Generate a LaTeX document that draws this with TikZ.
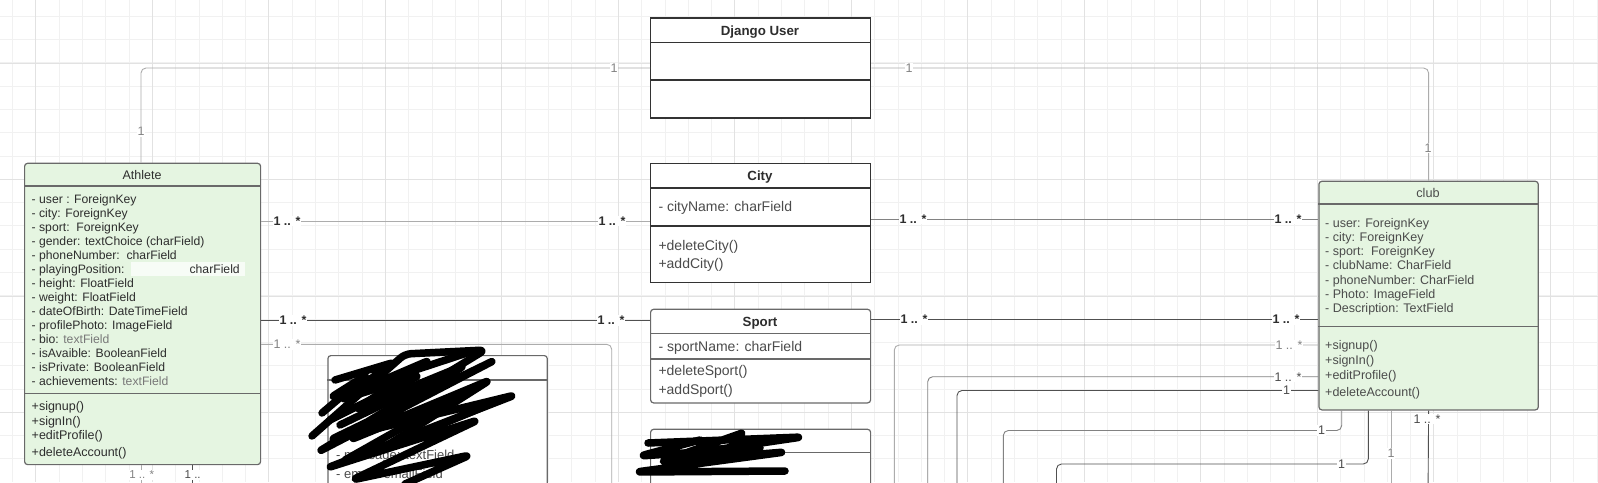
\documentclass[tikz,border=0pt]{standalone}
\usepackage{fontspec}
\setmainfont{Liberation Sans}
\usetikzlibrary{positioning, calc}

\definecolor{GridMinor}{RGB}{241,241,241}
\definecolor{GridMajor}{RGB}{226,226,226}
\definecolor{ModelGreen}{RGB}{229,245,225}
\definecolor{BoxBorder}{RGB}{105,105,105}
\definecolor{TextDark}{RGB}{45,45,45}
\definecolor{TextMid}{RGB}{75,75,75}
\definecolor{TextLight}{RGB}{120,120,120}
\definecolor{LinkDark}{RGB}{80,80,80}
\definecolor{LinkMid}{RGB}{130,130,130}
\definecolor{LinkLight}{RGB}{172,172,172}

\begin{document}
\begin{tikzpicture}[x=1pt, y=-1pt,
    greenbox/.style={rectangle, draw=BoxBorder, fill=ModelGreen, line width=1.2pt, rounded corners=3pt, anchor=north west, inner sep=0},
    plainbox/.style={rectangle, draw=black!80, fill=white, line width=1.4pt, anchor=north west, inner sep=0},
    roundbox/.style={plainbox, draw=BoxBorder, line width=1.2pt, rounded corners=3pt},
    rows/.style={anchor=north west, align=left, inner sep=0, text=TextDark},
    label/.style={anchor=base west, inner sep=0, text=TextMid, font=\fontsize{14}{16}\selectfont},
    title/.style={anchor=base, inner sep=0, text=TextDark, font=\fontsize{13.3}{15}\selectfont\bfseries},
    link/.style={draw=LinkDark, line width=0.9pt, rounded corners=5pt},
    mult/.style={fill=white, inner sep=1pt, text=TextMid, font=\fontsize{12.5}{14}\selectfont},
    multbold/.style={mult, text=TextDark, font=\fontsize{12.5}{14}\selectfont\bfseries},
    multlight/.style={mult, text=LinkMid},
    scribble/.style={line width=7.5pt, line cap=round, line join=round, rounded corners=6pt}
]
    \useasboundingbox (0,0) rectangle (1598,482);
    \clip (0,0) rectangle (1598,482);
    \fill[white] (0,0) rectangle (1598,482);

    % background grid
    \foreach \gx in {12.5,35.8,...,1598} \draw[GridMinor, line width=0.8pt] (\gx,0) -- (\gx,482);
    \foreach \gy in {16.1,39.4,...,482} \draw[GridMinor, line width=0.8pt] (0,\gy) -- (1598,\gy);
    \foreach \gx in {35.8,152.3,...,1598} \draw[GridMajor, line width=0.9pt] (\gx,0) -- (\gx,482);
    \foreach \gy in {63,179.5,...,482} \draw[GridMajor, line width=0.9pt] (0,\gy) -- (1598,\gy);

    % model boxes
    \node[plainbox, minimum width=220pt, minimum height=100pt] (django) at (650,17.3) {};
    \node[plainbox, minimum width=220pt, minimum height=119.3pt] (city) at (650,162.7) {};
    \node[roundbox, minimum width=220pt, minimum height=93.6pt] (sport) at (650,308.7) {};
    \node[roundbox, minimum width=220pt, minimum height=150pt] (midmodel) at (650,428.7) {};
    \node[roundbox, minimum width=219.4pt, minimum height=200pt] (leftmodel) at (327.3,355) {};
    \node[greenbox, minimum width=236pt, minimum height=301.3pt] (athlete) at (24,162.7) {};
    \node[greenbox, minimum width=219.4pt, minimum height=228.6pt] (club) at (1318.3,180.7) {};

    % compartment lines
    \draw[black!80, line width=1.4pt] (django.west |- 0,42.7) -- (django.east |- 0,42.7);
    \draw[black!80, line width=1.4pt] (django.west |- 0,80) -- (django.east |- 0,80);
    \draw[black!80, line width=1.4pt] (city.west |- 0,188) -- (city.east |- 0,188);
    \draw[black!80, line width=1.4pt] (city.west |- 0,226) -- (city.east |- 0,226);
    \draw[BoxBorder, line width=1.2pt] (sport.west |- 0,333.3) -- (sport.east |- 0,333.3);
    \draw[BoxBorder, line width=1.2pt] (sport.west |- 0,359) -- (sport.east |- 0,359);
    \draw[BoxBorder, line width=1.2pt] (midmodel.west |- 0,452.7) -- (midmodel.east |- 0,452.7);
    \draw[BoxBorder, line width=1.2pt] (leftmodel.west |- 0,380) -- (leftmodel.east |- 0,380);
    \draw[BoxBorder, line width=1.2pt] (athlete.west |- 0,186) -- (athlete.east |- 0,186);
    \draw[BoxBorder, line width=1.2pt] (athlete.west |- 0,393.3) -- (athlete.east |- 0,393.3);
    \draw[BoxBorder, line width=1.2pt] (club.west |- 0,204) -- (club.east |- 0,204);
    \draw[BoxBorder, line width=1.2pt] (club.west |- 0,326.7) -- (club.east |- 0,326.7);

    % box texts
    \node[title] (djangoTitle) at (760,35.5) {Django User};
    \node[title] (cityTitle) at (760,180.5) {City};
    \node[label] (cityAttrs) at (658.3,211.5) {- cityName: charField};
    \node[label] (cityOpA) at (658.3,250) {+deleteCity()};
    \node[label] (cityOpB) at (658.3,268.8) {+addCity()};
    \node[title] (sportTitle) at (760,326.2) {Sport};
    \node[label] (sportAttrs) at (658.3,351.2) {- sportName: charField};
    \node[label] (sportOpA) at (658.3,375.5) {+deleteSport()};
    \node[label] (sportOpB) at (658.3,394.5) {+addSport()};
    \node[label, font=\fontsize{13}{15}\selectfont] (leftRowA) at (336,459.5) {- message: textField};
    \node[label, font=\fontsize{13}{15}\selectfont] (leftRowB) at (336,478.5) {- email: emailField};

    \node[title, font=\fontsize{12.5}{14}\selectfont] (athleteTitle) at (142,179.5) {Athlete};
    \fill[white, opacity=0.7] (131,261.5) rectangle (245,276);
    \node[rows, font=\fontsize{12.2}{14}\selectfont] (athleteAttrs) at (31.5,194.2) {- user : ForeignKey\\- city: ForeignKey\\- sport:\ \ ForeignKey\\- gender: textChoice (charField)\\- phoneNumber:\ \ charField\\- playingPosition:\hspace{65pt}charField\\- height: FloatField\\- weight: FloatField\\- dateOfBirth: DateTimeField\\- profilePhoto: ImageField\\- bio: \textcolor{TextLight}{textField}\\- isAvaible: BooleanField\\- isPrivate: BooleanField\\- achievements: \textcolor{TextLight}{textField}};
    \node[rows, font=\fontsize{12.5}{14.5}\selectfont] (athleteOps) at (31.5,401.5) {+signup()\\+signIn()\\+editProfile()\\[2.5pt]+deleteAccount()};

    \node[title, font=\fontsize{12.7}{14}\selectfont, text=TextMid] (clubTitle) at (1428,197.2) {club};
    \node[rows, text=TextMid, font=\fontsize{12.5}{14.3}\selectfont] (clubAttrs) at (1325,217.8) {- user: ForeignKey\\- city: ForeignKey\\- sport:\ \ ForeignKey\\- clubName: CharField\\- phoneNumber: CharField\\- Photo: ImageField\\- Description: TextField};
    \node[rows, text=TextMid, font=\fontsize{12.5}{14.7}\selectfont] (clubOps) at (1325,340.5) {+signup()\\+signIn()\\+editProfile()\\[2.5pt]+deleteAccount()};

    % free ends below the picture
    \coordinate (athleteDownA) at (611.7,500);
    \coordinate (athleteDownB) at (141.7,500);
    \coordinate (athleteDownC) at (192.7,500);
    \coordinate (clubDownA) at (894.3,500);
    \coordinate (clubDownB) at (927.7,500);
    \coordinate (clubDownC) at (957,500);
    \coordinate (clubDownD) at (1003.3,500);
    \coordinate (clubDownE) at (1056.5,500);
    \coordinate (clubDownF) at (1391,500);
    \coordinate (clubDownG) at (1428,500);

    % associations
    \draw[link, draw=LinkLight] (athlete.north -| 141,0) |- (django.west |- 0,68);
    \draw[link, draw=LinkLight] (django.east |- 0,68) -| (club.north);
    \draw[link, draw=LinkLight] (athlete.east |- 0,221) -- (city.west |- 0,221);
    \draw[link, draw=LinkMid] (city.east |- 0,219) -- (club.west |- 0,219);
    \draw[link] (athlete.east |- 0,320.5) -- (sport.west |- 0,320.5);
    \draw[link] (sport.east |- 0,319.5) -- (club.west |- 0,319.5);
    \draw[link, draw=LinkLight] (athlete.east |- 0,344.3) -| (athleteDownA);
    \draw[link, draw=LinkLight] (club.west |- 0,345) -| (clubDownA);
    \draw[link, draw=LinkMid] (club.west |- 0,376.7) -| (clubDownB);
    \draw[link] (club.west |- 0,390.5) -| (clubDownC);
    \draw[link, draw=LinkMid] (club.south -| 1341.7,0) |- (clubDownD |- 0,430.5) -- (clubDownD);
    \draw[link] (club.south -| 1368.3,0) |- (clubDownE |- 0,464) -- (clubDownE);
    \draw[link, draw=LinkLight] (club.south -| 1391,0) -- (clubDownF);
    \draw[link] (club.south) -- (clubDownG);
    \draw[link, draw=LinkLight] (athlete.south -| 141.7,0) -- (athleteDownB);
    \draw[link] (athlete.south -| 192.7,0) -- (athleteDownC);

    % multiplicities
    \node[multlight] (mUserA) at (141,131.5) {1};
    \node[multlight] (mUserB) at (614,68) {1};
    \node[multlight] (mUserC) at (909,68) {1};
    \node[multlight] (mUserD) at (1428,148) {1};
    \node[multbold] (mCityA) at (287,221) {1 .. *};
    \node[multbold] (mCityB) at (612,221) {1 .. *};
    \node[multbold] (mCityC) at (913,219) {1 .. *};
    \node[multbold] (mCityD) at (1288,219) {1 .. *};
    \node[multbold] (mSportA) at (293,320.5) {1 .. *};
    \node[multbold] (mSportB) at (611,320.5) {1 .. *};
    \node[multbold] (mSportC) at (914,319.5) {1 .. *};
    \node[multbold] (mSportD) at (1286,319.5) {1 .. *};
    \node[multlight] (mAthDown) at (287,344.3) {1 .. *};
    \node[multlight] (mClubA) at (1289,345) {1 .. *};
    \node[mult] (mClubB) at (1288,376.7) {1 .. *};
    \node[mult] (mClubC) at (1286.7,390.5) {1};
    \node[mult] (mClubD) at (1321.7,430.5) {1};
    \node[mult] (mClubE) at (1341.7,464) {1};
    \node[multlight] (mClubF) at (1391,453.5) {1};
    \node[mult] (mClubG) at (1427,419) {1 .. *};
    \node[multlight, font=\fontsize{11.5}{13}\selectfont] (mAthB) at (141.7,475) {1 .. *};
    \node[mult, font=\fontsize{11.5}{13}\selectfont] (mAthC) at (192.7,475) {1 ..};

    % scribbled-out parts
    \draw[scribble] (322,413) -- (368,374) -- (330,398) -- (470,352);
    \draw[scribble] (312,436) -- (405,354) -- (485,350) -- (318,452) -- (495,360) -- (330,440) -- (515,395) -- (327,468) -- (478,420) -- (352,480) -- (470,455) -- (405,484);
    \draw[scribble] (340,425) -- (450,372) -- (350,440) -- (460,395) -- (345,460);
    \draw[scribble] (360,390) -- (430,360) -- (355,410) -- (465,365) -- (370,430) -- (490,380) -- (380,450) -- (500,400);
    \draw[scribble] (335,380) -- (395,362) -- (340,400) -- (420,375) -- (330,420);
    \draw[scribble] (648,443) -- (802,437) -- (680,455) -- (745,432) -- (660,462) -- (785,452) -- (636,472) -- (785,471);
    \draw[scribble] (700,440) -- (640,456) -- (760,448);
\end{tikzpicture}
\end{document}
